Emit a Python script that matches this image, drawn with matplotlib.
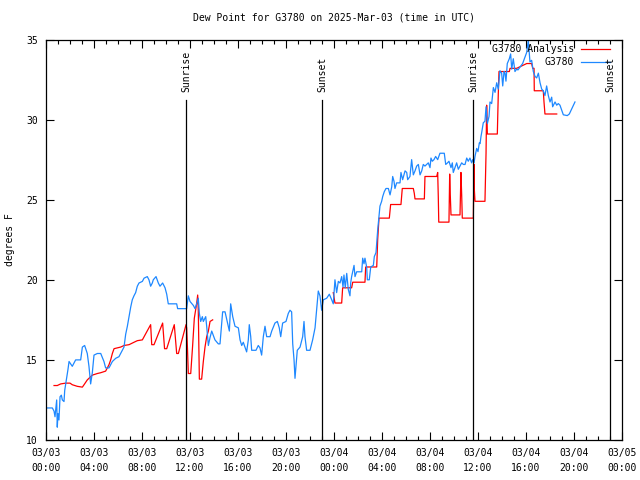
import matplotlib
matplotlib.use("Agg")
import matplotlib.pyplot as plt
import numpy as np

# hours since 2025-03-03 00:00 UTC
obs_hours = [0.11,0.53,0.67,0.75,0.89,0.94,1.0,1.08,1.17,1.28,1.36,1.5,1.56,1.72,1.83,1.92,2.19,2.47,2.89,3.03,
             3.22,3.44,3.58,3.72,3.86,4.0,4.28,4.56,4.83,4.97,5.25,5.53,5.81,6.08,6.5,6.64,6.78,6.92,7.06,7.19,
             7.33,7.47,7.61,7.75,8.03,8.17,8.44,8.58,8.72,8.86,8.94,9.17,9.36,9.5,9.72,9.92,10.06,10.19,10.89,10.97,
             11.72,11.86,12.0,12.28,12.42,12.56,12.69,12.78,12.89,13.03,13.11,13.31,13.39,13.53,13.67,13.81,14.08,14.36,14.5,14.72,
             14.92,15.19,15.28,15.39,15.56,15.75,16.03,16.17,16.31,16.44,16.58,16.72,16.86,16.94,17.06,17.14,17.5,17.69,17.83,17.97,
             18.11,18.25,18.39,18.67,18.81,19.08,19.28,19.44,19.56,19.72,20.0,20.19,20.33,20.47,20.56,20.67,20.75,20.83,20.94,21.17,
             21.39,21.5,21.58,21.72,22.0,22.22,22.42,22.56,22.69,22.83,22.97,23.11,23.39,23.61,23.81,23.94,24.08,24.22,24.36,24.5,
             24.64,24.75,24.83,24.94,25.06,25.19,25.33,25.39,25.47,25.67,25.75,25.89,26.31,26.39,26.5,26.58,26.72,26.78,26.94,27.06,
             27.28,27.36,27.5,27.56,27.64,27.75,27.83,27.97,28.06,28.19,28.33,28.53,28.67,28.81,28.89,29.0,29.08,29.22,29.5,29.58,
             29.72,29.92,30.06,30.14,30.33,30.47,30.61,30.75,30.89,31.03,31.17,31.31,31.44,31.58,31.86,32.0,32.08,32.19,32.33,32.47,
             32.64,32.83,33.19,33.31,33.46,33.58,33.75,33.86,33.94,34.08,34.22,34.36,34.64,34.78,34.92,35.06,35.19,35.33,35.47,35.56,
             35.67,35.75,35.89,36.0,36.11,36.17,36.25,36.31,36.44,36.58,36.67,36.78,36.92,37.0,37.14,37.28,37.42,37.56,37.69,37.83,
             37.97,38.06,38.17,38.25,38.33,38.44,38.61,38.72,38.81,38.94,39.08,39.22,39.33,39.72,40.06,40.19,40.33,40.47,40.61,40.75,
             40.89,41.03,41.17,41.31,41.44,41.58,41.72,41.86,42.0,42.14,42.22,42.42,42.56,42.69,42.83,43.11,43.44,43.61,44.08]
obs_dewpt = [12.0,12.0,11.8,11.45,12.5,10.8,11.65,11.25,12.7,12.8,12.5,12.4,13.1,13.85,14.4,14.9,14.6,15.0,15.0,15.8,
             15.9,15.4,14.6,13.5,14.2,15.3,15.4,15.4,14.9,14.5,14.5,14.9,15.1,15.2,15.8,16.6,17.1,17.7,18.3,18.75,
             19.0,19.2,19.6,19.8,19.9,20.1,20.2,20.0,19.6,19.8,20.0,20.2,19.8,19.6,19.8,19.5,19.1,18.5,18.5,18.2,
             18.2,19.0,18.65,18.4,18.2,18.5,18.85,17.9,17.4,17.7,17.4,17.7,17.1,15.9,16.4,16.8,16.25,16.0,16.0,18.0,
             18.0,17.1,16.8,18.5,17.7,17.1,17.0,16.25,15.9,16.1,15.8,15.5,16.25,17.2,16.45,15.6,15.6,15.9,15.75,15.3,
             16.45,17.1,16.45,16.45,16.8,17.3,17.4,17.0,16.45,17.3,17.4,17.9,18.1,18.0,16.0,15.0,13.85,14.6,15.6,15.8,
             16.45,17.4,16.45,15.6,15.6,16.25,17.0,18.2,19.3,19.0,18.1,18.75,18.85,19.1,18.75,18.5,20.0,19.2,19.9,19.8,
             20.2,19.55,20.3,19.5,20.4,19.4,19.0,19.8,20.2,20.9,20.2,20.5,20.5,21.35,21.0,21.35,20.8,20.0,20.0,20.8,
             20.9,21.45,21.7,22.3,23.1,23.95,24.6,24.9,25.2,25.5,25.7,25.7,25.3,25.8,26.45,26.15,25.7,26.05,26.05,26.7,
             26.25,26.8,26.7,26.25,26.45,27.5,26.55,26.8,27.1,27.2,26.55,26.8,27.2,27.1,27.3,27.0,27.6,27.4,27.5,27.7,
             27.5,27.9,27.9,27.2,27.3,27.4,27.0,27.3,26.7,27.0,27.3,26.9,27.3,27.2,27.2,27.6,27.4,27.6,27.3,27.5,
             27.3,27.7,28.2,28.0,28.55,28.5,28.95,29.2,29.8,29.9,30.8,29.75,30.2,31.1,31.0,32.0,31.7,32.3,31.9,33.05,
             32.9,32.1,33.0,32.9,32.4,33.5,33.8,34.1,33.15,33.8,33.0,33.15,33.1,33.5,34.2,34.95,33.6,33.7,33.0,32.7,
             32.6,32.9,32.3,31.9,31.8,31.5,32.1,31.5,31.1,31.4,30.8,31.1,30.9,31.0,30.9,30.3,30.25,30.35,31.1]

ana_hours = [0.67,0.94,1.22,1.64,2.0,2.19,2.61,3.03,3.17,3.44,3.72,3.86,4.28,4.56,4.97,5.25,5.39,5.53,5.67,5.94,
             6.22,6.5,6.92,7.33,7.61,8.03,8.72,8.81,9.0,9.72,9.88,10.06,10.69,10.89,11.03,11.67,11.72,11.79,11.86,12.06,
             12.22,12.36,12.56,12.64,12.69,12.78,12.97,13.11,13.25,13.39,13.53,13.67,13.89,18.0,
             23.94,24.08,24.64,24.72,25.47,25.56,26.58,26.64,27.56,27.64,27.75,28.61,28.72,29.58,29.69,30.61,30.69,30.75,31.53,31.58,
             32.56,32.64,32.69,32.73,33.58,33.64,33.69,33.75,34.5,34.58,34.64,34.69,35.61,35.67,35.69,35.75,36.58,36.67,36.72,36.78,
             37.61,37.69,37.75,38.61,38.67,39.22,39.5,40.06,40.47,40.56,40.67,40.69,41.44,41.5,41.58,42.56]
ana_dewpt = [13.4,13.4,13.5,13.55,13.55,13.45,13.35,13.3,13.45,13.75,13.95,14.05,14.15,14.2,14.3,14.7,15.0,15.4,15.7,15.75,
             15.8,15.9,15.95,16.1,16.2,16.25,17.2,15.95,15.95,17.3,15.7,15.7,17.2,15.4,15.4,17.2,17.0,15.7,14.15,14.15,
             15.9,17.6,18.55,19.05,18.1,13.8,13.8,14.9,15.8,16.45,16.8,17.4,17.5,np.nan,
             19.2,18.55,18.55,19.5,19.5,19.85,19.85,20.8,20.8,22.5,23.85,23.85,24.7,24.7,25.7,25.7,25.4,25.05,25.05,26.45,
             26.45,26.7,25.2,23.6,23.6,26.6,25.3,24.05,24.05,26.7,25.3,23.85,23.85,27.2,25.7,24.9,24.9,27.9,30.9,29.1,
             29.1,31.6,33.0,33.0,33.2,33.2,33.3,33.5,33.5,33.2,33.2,31.8,31.8,31.1,30.35,30.35]

sun_hours = [11.67, 23.0, 35.58, 47.0]
sun_labels = ["Sunrise", "Sunset", "Sunrise", "Sunset"]

xtick_hours = list(range(0, 49, 4))
xtick_labels = ["03/03\n00:00", "03/03\n04:00", "03/03\n08:00", "03/03\n12:00", "03/03\n16:00", "03/03\n20:00",
                "03/04\n00:00", "03/04\n04:00", "03/04\n08:00", "03/04\n12:00", "03/04\n16:00", "03/04\n20:00",
                "03/05\n00:00"]
ytick_vals = [10, 15, 20, 25, 30, 35]

plt.rcParams['font.family'] = ['DejaVu Sans Mono']
plt.rcParams['font.size'] = 7

fig = plt.figure(figsize=(6.4, 4.8), dpi=100)
ax = fig.add_axes([46/640, 40/480, 576/640, 400.5/480])

ax.plot(ana_hours, ana_dewpt, color='#ff0000', lw=0.9)
ax.plot(obs_hours, obs_dewpt, color='#1e88ff', lw=0.9)

trans = ax.get_xaxis_transform()
for h, lab in zip(sun_hours, sun_labels):
    ax.plot([h, h], [0, 0.848], color='black', lw=0.9, transform=trans)
    ax.text(h, 0.868, lab, rotation=90, ha='center', va='bottom', transform=trans, fontsize=7)

ax.set_xlim(0, 48)
ax.set_ylim(10, 35)
ax.set_xticks(xtick_hours)
ax.set_xticklabels(xtick_labels)
ax.set_xticks(range(0, 49), minor=True)
ax.set_yticks(ytick_vals)
for lbl in ax.get_xticklabels():
    lbl.set_linespacing(1.6)
ax.tick_params(which='both', direction='in', top=True, right=True, width=0.8)
ax.tick_params(which='major', length=6, pad=6)
ax.tick_params(which='minor', length=3)
for s in ax.spines.values():
    s.set_linewidth(0.9)

ax.set_ylabel("degrees F", fontsize=7, labelpad=8)
ax.set_title("Dew Point for G3780 on 2025-Mar-03 (time in UTC)", fontsize=7, pad=14)

# legend (gnuplot style, right-justified text)
ax.text(0.9167, 0.9755, "G3780 Analysis", transform=ax.transAxes, ha='right', va='center', fontsize=7)
ax.plot([0.9288, 0.979], [0.9755, 0.9755], color='#ff0000', lw=0.9, transform=ax.transAxes)
ax.text(0.9167, 0.943, "G3780", transform=ax.transAxes, ha='right', va='center', fontsize=7)
ax.plot([0.9288, 0.979], [0.943, 0.943], color='#1e88ff', lw=0.9, transform=ax.transAxes)

fig.savefig("out.png", dpi=100)
